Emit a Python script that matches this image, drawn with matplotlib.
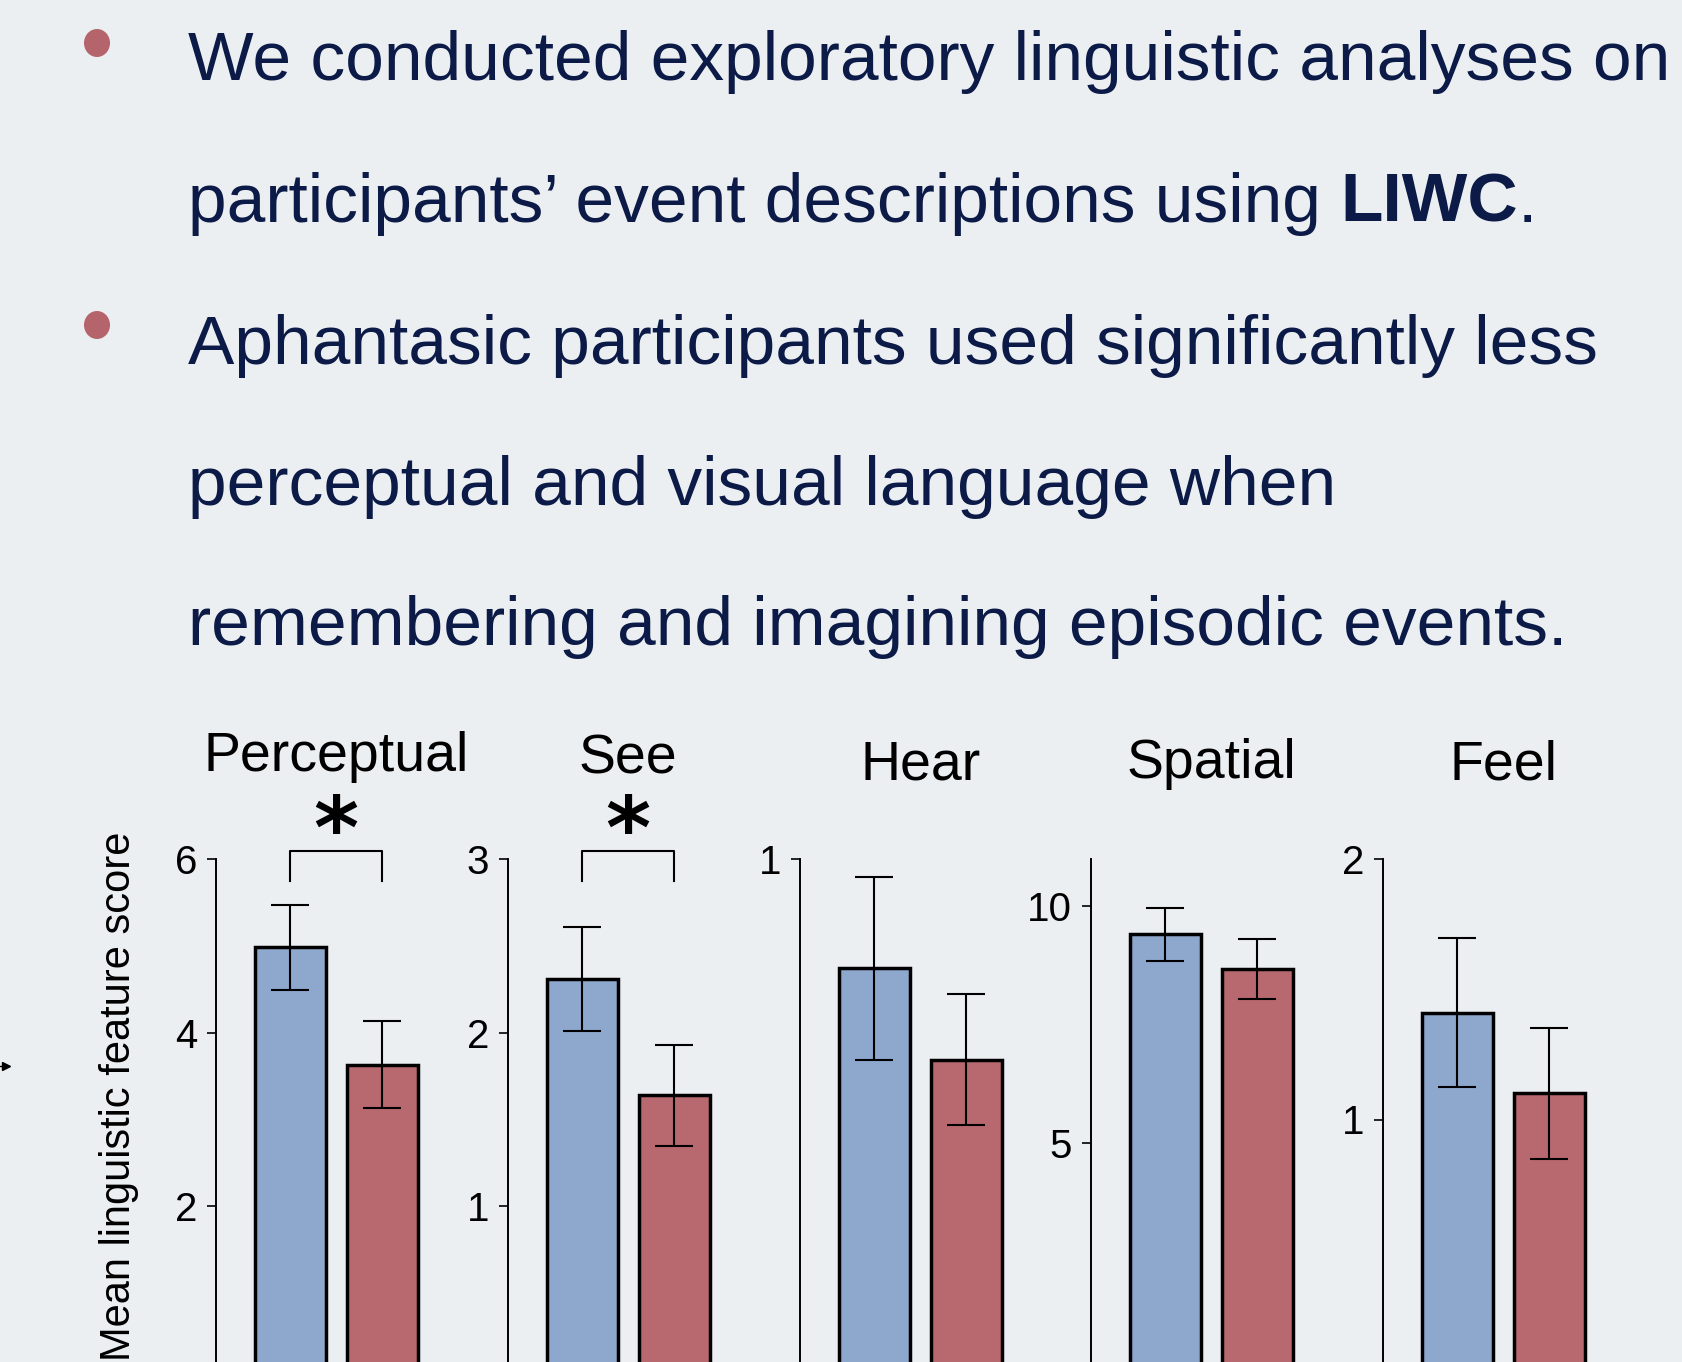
import matplotlib.pyplot as plt
import numpy as np
from matplotlib.patches import Ellipse
from matplotlib.transforms import blended_transform_factory

# data
panels = ['Perceptual', 'See', 'Hear', 'Spatial', 'Feel']
ymax = [6, 3, 1, 11, 2]
yticks = [[2, 4, 6], [1, 2, 3], [1], [5, 10], [1, 2]]
blue_mean = [4.98, 2.31, 0.79, 9.41, 1.41]
blue_err = [0.49, 0.30, 0.175, 0.56, 0.285]
red_mean = [3.63, 1.64, 0.615, 8.68, 1.10]
red_err = [0.50, 0.29, 0.125, 0.635, 0.25]
signif = [True, True, False, False, False]

bullet_lines = [
    ['We conducted exploratory linguistic analyses on'],
    ['participants\u2019 event descriptions using ', 'LIWC', '.'],
    ['Aphantasic participants used significantly less'],
    ['perceptual and visual language when'],
    ['remembering and imagining episodic events.'],
]
bold_parts = ['LIWC']

BG = '#ECEFF2'
NAVY = '#0B1A47'
BLUE = '#8DA7CD'
RED = '#B8696F'
DOT = '#B5646C'

W, H = 1683, 1362
plt.rcParams['font.family'] = ['Liberation Sans', 'DejaVu Sans']

fig = plt.figure(figsize=(W / 100, H / 100), dpi=100, facecolor=BG)
renderer = fig.canvas.get_renderer()

# bullet text block
text_x = 188
baselines = [80, 222, 364, 505, 645]
for line, yb in zip(bullet_lines, baselines):
    x = text_x
    for part in line:
        t = fig.text(x / W, 1 - yb / H, part, fontsize=50, color=NAVY, va='baseline', ha='left',
                     weight='bold' if part in bold_parts else 'normal')
        x = t.get_window_extent(renderer).x1

for yc in [43, 325]:
    fig.add_artist(Ellipse((97 / W, 1 - yc / H), 26 / W, 28 / H, transform=fig.transFigure,
                           color=DOT, lw=0))

# bar panels, all axes share the same box (bottom runs off the slide)
spine_x = [216, 508, 800, 1091, 1383]
ax_top, ax_bot = 858.7, 1380.3
ax_w = 214.7
title_base = [771, 773, 779, 778, 780]

for i, name in enumerate(panels):
    ax = fig.add_axes([spine_x[i] / W, 1 - ax_bot / H, ax_w / W, (ax_bot - ax_top) / H])
    ax.set_facecolor('none')
    ax.bar([0, 1], [blue_mean[i], red_mean[i]], width=0.77, color=[BLUE, RED],
           edgecolor='black', linewidth=2.5,
           yerr=[blue_err[i], red_err[i]],
           error_kw=dict(ecolor='black', elinewidth=1.5, capsize=14, capthick=1.5))
    ax.set_xlim(-0.802, 1.523)
    ax.set_ylim(0, ymax[i])
    ax.set_yticks(yticks[i])
    ax.set_xticks([])
    for s in ['top', 'right', 'bottom']:
        ax.spines[s].set_visible(False)
    ax.spines['left'].set_linewidth(1.4)
    ax.tick_params(axis='y', direction='out', length=6.5, width=1.2, pad=7, labelsize=29)

    ax.text(0.5, (ax_bot - title_base[i]) / (ax_bot - ax_top), name, fontsize=40,
            ha='center', va='baseline', transform=blended_transform_factory(ax.transData, ax.transAxes))

    if signif[i]:
        tr = blended_transform_factory(ax.transData, ax.transAxes)
        ax.plot([0, 0, 1, 1], [0.957, 1.0144, 1.0144, 0.957], color='black', lw=1.5,
                transform=tr, clip_on=False)
        ax.text(0.5, 1.064, '*', fontsize=62, weight='bold', family='DejaVu Sans',
                ha='center', va='center_baseline', transform=tr)

fig.text(119 / W, 1 - 832 / H, 'Mean linguistic feature score', rotation=90, fontsize=30,
         ha='center', va='top')

# stray arrow tip at the left edge
fig.add_artist(plt.Line2D([-0.01, 6 / W], [1 - 1066 / H, 1 - 1066 / H], color='black', lw=1,
                          marker='>', markevery=[1], markersize=6, transform=fig.transFigure))

plt.savefig('out.png', dpi=100, facecolor=BG)
